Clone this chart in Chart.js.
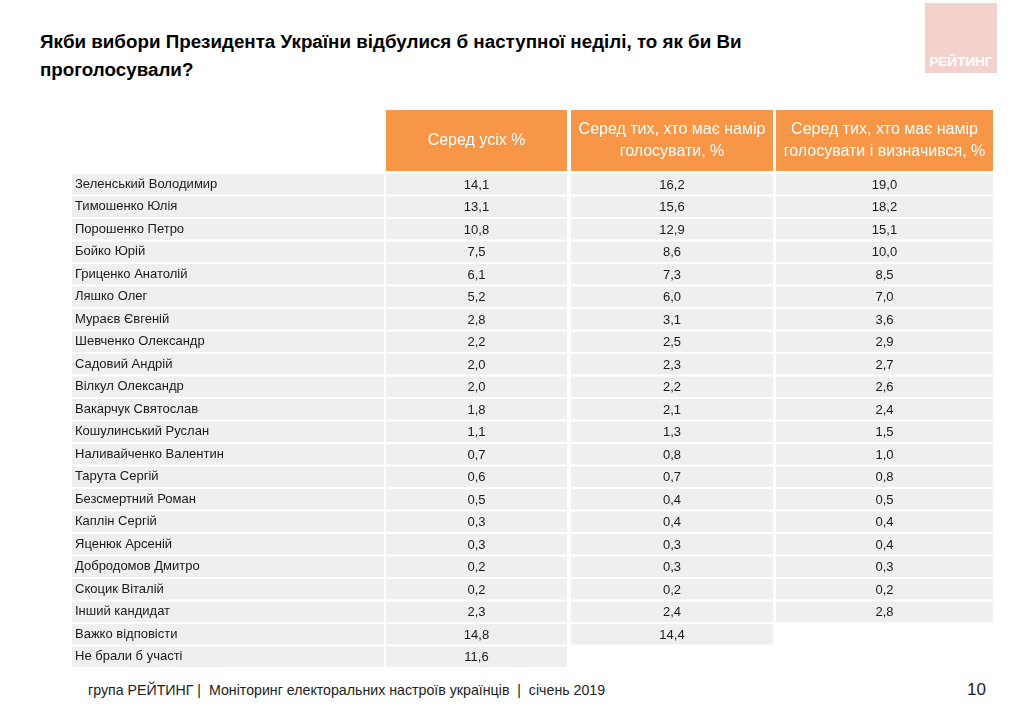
<!DOCTYPE html>
<html lang="uk">
<head>
<meta charset="utf-8">
<title>Рейтинг кандидатів</title>
<script src="https://cdn.jsdelivr.net/npm/chart.js@4.4.1/dist/chart.umd.min.js"></script>
<style>
	body {
		margin: 0;
		width: 1024px;
		height: 704px;
		background: #fff;
		font-family: "Liberation Sans", Arial, sans-serif;
		position: relative;
		overflow: hidden;
	}
	#title {
		position: absolute;
		left: 40px;
		top: 28px;
		font-size: 18.8px;
		font-weight: bold;
		line-height: 28px;
		color: #000;
	}
	#logo {
		position: absolute;
		left: 925px;
		top: 3px;
		width: 72px;
		height: 70px;
		background: #f3d2ce;
	}
	#logo span {
		position: absolute;
		left: 0;
		right: 0;
		bottom: 4px;
		text-align: center;
		color: #fff;
		font-size: 13.5px;
		font-weight: bold;
	}
	#tableWrap {
		position: absolute;
		left: 72px;
		top: 110px;
		width: 921px;
		height: 558px;
	}
	#footer {
		position: absolute;
		left: 88px;
		top: 682px;
		font-size: 14.2px;
		color: #222;
		white-space: pre;
	}
	#pageNum {
		position: absolute;
		left: 967px;
		top: 680px;
		font-size: 17px;
		color: #222;
	}
</style>
</head>
<body>
<div id="title">Якби вибори Президента України відбулися б наступної неділі, то як би Ви<br>проголосували?</div>
<div id="logo"><span>РЕЙТИНГ</span></div>
<div id="tableWrap"><canvas id="pollTable"></canvas></div>
<div id="footer">група РЕЙТИНГ |  Моніторинг електоральних настроїв українців  |  січень 2019</div>
<div id="pageNum">10</div>
<script>
// Rows of the table
const candidates = [
	"Зеленський Володимир", "Тимошенко Юлія", "Порошенко Петро", "Бойко Юрій",
	"Гриценко Анатолій", "Ляшко Олег", "Мураєв Євгеній", "Шевченко Олександр",
	"Садовий Андрій", "Вілкул Олександр", "Вакарчук Святослав", "Кошулинський Руслан",
	"Наливайченко Валентин", "Тарута Сергій", "Безсмертний Роман", "Каплін Сергій",
	"Яценюк Арсеній", "Добродомов Дмитро", "Скоцик Віталій", "Інший кандидат",
	"Важко відповісти", "Не брали б участі",
];

// Column values, % (null = empty cell)
const amongAll = [14.1, 13.1, 10.8, 7.5, 6.1, 5.2, 2.8, 2.2, 2.0, 2.0, 1.8, 1.1, 0.7, 0.6, 0.5, 0.3, 0.3, 0.2, 0.2, 2.3, 14.8, 11.6];
const amongVoters = [16.2, 15.6, 12.9, 8.6, 7.3, 6.0, 3.1, 2.5, 2.3, 2.2, 2.1, 1.3, 0.8, 0.7, 0.4, 0.4, 0.3, 0.3, 0.2, 2.4, 14.4, null];
const amongDecided = [19.0, 18.2, 15.1, 10.0, 8.5, 7.0, 3.6, 2.9, 2.7, 2.6, 2.4, 1.5, 1.0, 0.8, 0.5, 0.4, 0.4, 0.3, 0.2, 2.8, null, null];

const columnHeaders = [
	["Серед усіх %"],
	["Серед тих, хто має намір", "голосувати, %"],
	["Серед тих, хто має намір", "голосувати і визначився, %"],
];

// Layout: horizontal extent of each column on the x scale (name column first)
const columnSpans = [[0, 312], [314, 495], [499, 701], [704, 921]];
const headerHeight = 61;
const headerGap = 2;
const cellColor = "#efefef";
const headerColor = "#f79646";
const fontFamily = "'Liberation Sans', Arial, sans-serif";

const valueColumns = [amongAll, amongVoters, amongDecided];

function formatValue(v) {
	return v.toFixed(1).replace(".", ",");
}

// Draws the orange header cells and the numbers inside the value cells
const tableTextPlugin = {
	id: "tableText",
	afterDraw(chart) {
		const ctx = chart.ctx;
		const xScale = chart.scales.x;
		const area = chart.chartArea;
		ctx.save();

		// header row
		columnHeaders.forEach((lines, i) => {
			const span = columnSpans[i + 1];
			const x0 = xScale.getPixelForValue(span[0]);
			const x1 = xScale.getPixelForValue(span[1]);
			const top = area.top - headerGap - headerHeight;
			ctx.fillStyle = headerColor;
			ctx.fillRect(x0, top, x1 - x0, headerHeight);
			ctx.fillStyle = "#fff";
			ctx.font = "16px " + fontFamily;
			ctx.textAlign = "center";
			ctx.textBaseline = "middle";
			const lineH = 22;
			const midY = top + headerHeight / 2;
			lines.forEach((line, k) => {
				const y = midY + (k - (lines.length - 1) / 2) * lineH;
				ctx.fillText(line, (x0 + x1) / 2, y);
			});
		});

		// cell values
		ctx.fillStyle = "#1a1a1a";
		ctx.font = "13px " + fontFamily;
		ctx.textAlign = "center";
		ctx.textBaseline = "middle";
		valueColumns.forEach((vals, i) => {
			const meta = chart.getDatasetMeta(i + 1);
			meta.data.forEach((bar, j) => {
				const v = vals[j];
				if (v === null || v === undefined) return;
				const c = bar.getCenterPoint();
				ctx.fillText(formatValue(v), c.x, c.y + 1);
			});
		});
		ctx.restore();
	},
};

document.addEventListener("DOMContentLoaded", function () {
	const ctx = document.getElementById("pollTable").getContext("2d");

	const datasets = [
		{
			label: "names",
			data: candidates.map(() => columnSpans[0]),
			backgroundColor: cellColor,
		},
	].concat(
		valueColumns.map((vals, i) => ({
			label: columnHeaders[i].join(" "),
			data: vals.map((v) => (v === null ? null : columnSpans[i + 1])),
			backgroundColor: cellColor,
		}))
	);

	new Chart(ctx, {
		type: "bar",
		data: {
			labels: candidates,
			datasets: datasets,
		},
		options: {
			indexAxis: "y",
			responsive: true,
			maintainAspectRatio: false,
			animation: false,
			grouped: false,
			barPercentage: 1,
			categoryPercentage: 0.91,
			layout: { padding: { top: headerHeight + headerGap, left: 0, right: 0, bottom: 0 } },
			plugins: {
				legend: { display: false },
				tooltip: { enabled: false },
			},
			scales: {
				x: {
					type: "linear",
					min: 0,
					max: 921,
					display: false,
				},
				y: {
					type: "category",
					grid: { display: false, drawTicks: false, tickLength: 0 },
					border: { display: false },
					ticks: {
						z: 1,
						mirror: true,
						padding: 3,
						color: "#1a1a1a",
						font: { family: fontFamily, size: 13 },
						autoSkip: false,
					},
					// names sit inside the first column, so the axis takes no room
					afterFit(scale) {
						scale.width = 0;
						scale.paddingTop = 0;
						scale.paddingBottom = 0;
					},
				},
			},
		},
		plugins: [tableTextPlugin],
	});
});
</script>
</body>
</html>
